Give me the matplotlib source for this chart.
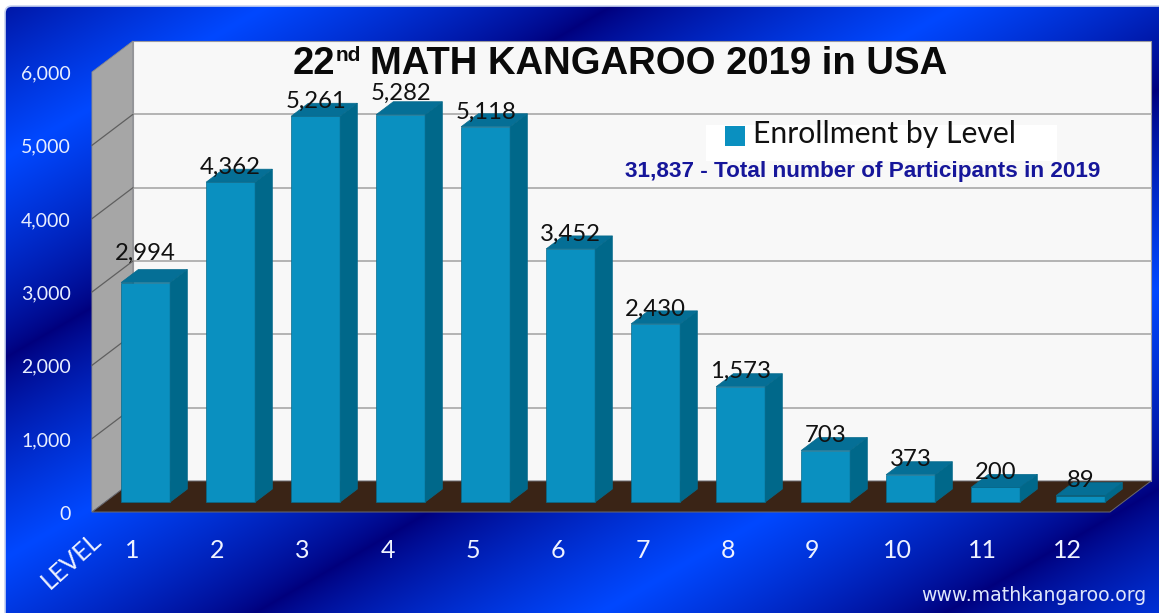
import numpy as np
import matplotlib
matplotlib.use("Agg")
import matplotlib.pyplot as plt
from matplotlib.patches import FancyBboxPatch, Rectangle

levels = [1, 2, 3, 4, 5, 6, 7, 8, 9, 10, 11, 12]
enrollment = [2994, 4362, 5261, 5282, 5118, 3452, 2430, 1573, 703, 373, 200, 89]
bar_labels = ["2,994", "4,362", "5,261", "5,282", "5,118", "3,452", "2,430", "1,573", "703", "373", "200", "89"]
y_ticks = [0, 1000, 2000, 3000, 4000, 5000, 6000]
y_tick_labels = ["0", "1,000", "2,000", "3,000", "4,000", "5,000", "6,000"]

W, H = 1159, 613
PX_LEVEL = 85.0      # pixels per level
PX_VALUE = 440 / 6000.0
X0, Y0 = 132.5, 512.0  # pixel of level 1 / value 0 on the front plane
DEPTH_X, DEPTH_Y = 41 / PX_LEVEL, 31 / PX_VALUE  # data shift for full floor depth

fig = plt.figure(figsize=(W / 100, H / 100), dpi=100, facecolor="white")

# background panel
bg = fig.add_axes([0, 0, 1, 1])
bg.set_xlim(0, W)
bg.set_ylim(H, 0)
bg.axis("off")
xx, yy = np.meshgrid(np.arange(W), np.arange(H))
phase = (xx / 690 + yy / 400 + 0.1) % 1
t = 1 - np.abs(phase - 0.5) * 2
t = t ** 0.8
dark = np.array([0, 0, 125]) / 255
bright = np.array([0, 72, 255]) / 255
img = dark + t[..., None] * (bright - dark)
im = bg.imshow(img, extent=(0, W, H, 0), aspect="auto", zorder=1)
panel = FancyBboxPatch((5, 6), W + 40, H + 40, boxstyle="round,pad=0,rounding_size=7",
                       fc="none", ec="#c9d4f0", lw=1.2, zorder=2)
bg.add_patch(panel)
im.set_clip_path(panel)
bg.set_xlim(0, W)
bg.set_ylim(H, 0)

# chart axes covers the whole figure, so levels and values land on the front plane
ax = fig.add_axes([0, 0, 1, 1])
ax.patch.set_alpha(0)
ax.set_xlim(1 - X0 / PX_LEVEL, 1 + (W - X0) / PX_LEVEL)
ax.set_ylim((Y0 - H) / PX_VALUE, Y0 / PX_VALUE)
ax.axis("off")


def pt(level, value, d):
    return level + d * DEPTH_X, value + d * DEPTH_Y


def poly(corners, **kw):
    xs, ys = zip(*[pt(*c) for c in corners])
    ax.fill(xs, ys, **kw)


LEFT, RIGHT, TOP = 0.523, 12.5, 6000

# walls
poly([(LEFT, 0, 1), (RIGHT, 0, 1), (RIGHT, TOP, 1), (LEFT, TOP, 1)], fc="#f8f8f8", ec="#9a9aa0", lw=0.8, zorder=2)
poly([(LEFT, 0, 0), (LEFT, 0, 1), (LEFT, TOP, 1), (LEFT, TOP, 0)], fc="#a6a6a6", ec="#8a8a8a", lw=0.6, zorder=2)
for v in y_ticks[1:-1]:
    x1, y1 = pt(LEFT, v, 1)
    x2, y2 = pt(RIGHT, v, 1)
    ax.plot([x1, x2], [y1, y2], color="#a8a8a8", lw=1.2, zorder=3)
    x0, y0 = pt(LEFT, v, 0)
    ax.plot([x0, x1], [y0, y1], color="#5f5f5f", lw=0.9, zorder=3)

# floor
poly([(LEFT, 0, 0), (RIGHT, 0, 0), (RIGHT, 0, 1), (LEFT, 0, 1)], fc="#3a2416", ec="#6a6a70", lw=0.7, zorder=4)

# bars
half = 49 / PX_LEVEL / 2
D0, D1 = 0.32, 0.74
front_c, side_c, top_c, edge_c = "#0a90c0", "#00688a", "#056f96", "#066a8c"
for lv, v in zip(levels, enrollment):
    a, b = lv - half, lv + half
    poly([(a, 0, D0), (b, 0, D0), (b, v, D0), (a, v, D0)], fc=front_c, ec=edge_c, lw=0.5, zorder=5)
    poly([(b, 0, D0), (b, 0, D1), (b, v, D1), (b, v, D0)], fc=side_c, ec=edge_c, lw=0.5, zorder=5)
    poly([(a, v, D0), (b, v, D0), (b, v, D1), (a, v, D1)], fc=top_c, ec=edge_c, lw=0.5, zorder=5)

# value labels, mostly sitting 15 px above the bar front
label_lift = {0: 29, 3: 21, 4: 14}
for i, (lv, v, s) in enumerate(zip(levels, enrollment, bar_labels)):
    x, y = pt(lv, v, D0)
    ax.annotate(s, (x, y), xytext=(0, label_lift.get(i, 15) * 0.72), textcoords="offset points",
                ha="center", va="center", fontsize=17.2, family="Lato", color="#111111", zorder=7)

# axis labels
for v, s in zip(y_ticks, y_tick_labels):
    ax.text(1 + (71 - X0) / PX_LEVEL, v - 2 / PX_VALUE, s, ha="right", va="center", fontsize=14, family="Lato",
            color="#e8eeff", zorder=7)
y_lab = (Y0 - 551) / PX_VALUE
for lv in levels:
    ax.text(lv, y_lab, str(lv), ha="center", va="center", fontsize=18, family="Lato", color="#eef2ff", zorder=7)


def fig_text(px, py, s, **kw):
    return fig.text(px / W, 1 - py / H, s, **kw)


fig_text(71, 561, "LEVEL", rotation=42, ha="center", va="center", fontsize=18, family="Lato", color="#eef2ff")

# title
title_kw = dict(family="Liberation Sans", weight="bold", color="#0a0a0a", va="baseline", zorder=8)
fig_text(293, 74, "22", fontsize=27.5, **title_kw)
fig_text(336, 61, "nd", fontsize=15, **title_kw)
fig_text(370, 74, "MATH KANGAROO 2019 in USA", fontsize=27.5, **title_kw)

# legend and total
fig.add_artist(Rectangle((706 / W, 1 - 161 / H), 351 / W, 36 / H, transform=fig.transFigure, fc="white", ec="none", zorder=6))
fig.add_artist(Rectangle((725 / W, 1 - 146 / H), 20 / W, 20 / H, transform=fig.transFigure, fc="#0a90c0", ec="none", zorder=7))
fig_text(753, 143, "Enrollment by Level", ha="left", va="baseline", fontsize=21.7, family="Lato", color="#111111", zorder=8)
fig_text(625, 177, "31,837 - Total number of Participants in 2019", ha="left", va="baseline", fontsize=16.2,
         family="Liberation Sans", weight="bold", color="#16169a", zorder=8)
fig_text(921, 601, "www.mathkangaroo.org", ha="left", va="baseline", fontsize=13.6, family="DejaVu Sans",
         color="#dfe6fb", zorder=8)

fig.savefig("out.png", dpi=100)
